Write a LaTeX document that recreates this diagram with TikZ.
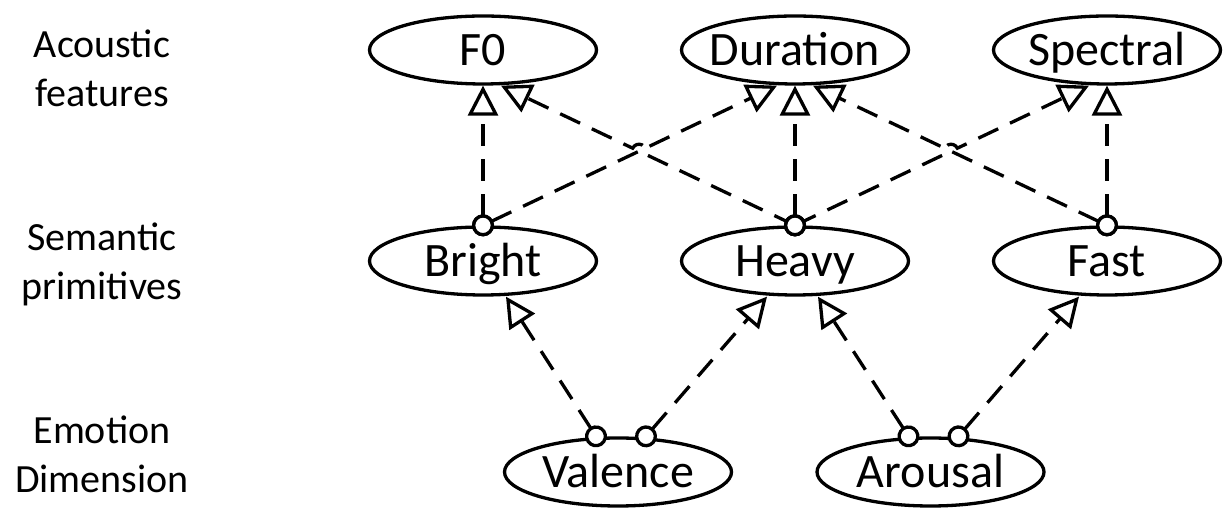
\documentclass[tikz,border=0pt]{standalone}
\usepackage{fontspec}
\setmainfont{Carlito}
\usetikzlibrary{arrows.meta,shapes.geometric,calc}
\begin{document}
\begin{tikzpicture}[x=1pt,y=1pt,
  state/.style={ellipse, draw, fill=white, line width=3.3pt,
    minimum width=227pt, minimum height=68pt, inner sep=0pt,
    font=\fontsize{48}{58}\selectfont, text height=31pt, text depth=0pt},
  layer/.style={align=center, font=\fontsize{40}{49.5}\selectfont, anchor=base},
  link/.style={line width=3.3pt, dash pattern=on 22pt off 13pt,
    shorten <=-11pt,
    {Circle[length=22pt,width=22pt,line width=3.3pt,fill=white]}-{Triangle[length=30pt,width=30pt,line width=3.3pt,fill=white]}}
]
\fill[white] (0,0) rectangle (1227,508);
\useasboundingbox (0,0) rectangle (1227,508);

% layer captions (anchored on the baseline of the second line)
\node[layer] (capA) at (102,401) {Acoustic\\features};
\node[layer] (capS) at (102,208) {Semantic\\primitives};
\node[layer] (capE) at (102,15) {Emotion\\Dimension};

% acoustic features
\node[state] (F0) at (483,458) {\makebox[0pt]{F0}};
\node[state] (Duration) at (795,458) {\makebox[0pt]{Duration}};
\node[state] (Spectral) at (1107,458) {\makebox[0pt]{Spectral}};
% semantic primitives
\node[state] (Bright) at (483,247) {\makebox[0pt]{Bright}};
\node[state] (Heavy) at (795,247) {\makebox[0pt]{Heavy}};
\node[state] (Fast) at (1107,247) {\makebox[0pt]{Fast}};
% emotion dimensions
\node[state] (Valence) at (618,36) {\makebox[0pt]{Valence}};
\node[state] (Arousal) at (930.5,36) {\makebox[0pt]{Arousal}};

% end points beside the centre of the lower border
\coordinate (f0R) at ([xshift=18pt]F0.south);
\coordinate (durL) at ([xshift=-18pt]Duration.south);
\coordinate (durR) at ([xshift=18pt]Duration.south);
\coordinate (spcL) at ([xshift=-18pt]Spectral.south);
\coordinate (briR) at ([xshift=23pt]Bright.south);
\coordinate (hvyL) at ([xshift=-28pt]Heavy.south);
\coordinate (hvyR) at ([xshift=23pt]Heavy.south);
\coordinate (fstL) at ([xshift=-28pt]Fast.south);
\coordinate (valL) at ([xshift=-22pt]Valence.north);
\coordinate (valR) at ([xshift=28pt]Valence.north);
\coordinate (arsL) at ([xshift=-22pt]Arousal.north);
\coordinate (arsR) at ([xshift=28pt]Arousal.north);

% semantic primitives -> acoustic features
\draw[link] (Bright.north) -- (durL);
\draw[link] (Fast.north) -- (durR);
% the two links from Heavy hop over the lines they cross
\draw[link, dash phase=8.5pt] let \p1=(Heavy.north), \p2=(f0R),
    \p3=(intersection of Heavy.north--f0R and Bright.north--durL),
    \n1={atan2(\y2-\y1,\x2-\x1)} in
  (\p1) -- ($(\p3)+(\n1+180:7pt)$)
  arc[start angle=\n1+180, delta angle=180, radius=7pt] -- (\p2);
\draw[link, dash phase=8.5pt] let \p1=(Heavy.north), \p2=(spcL),
    \p3=(intersection of Heavy.north--spcL and Fast.north--durR),
    \n1={atan2(\y2-\y1,\x2-\x1)} in
  (\p1) -- ($(\p3)+(\n1+180:7pt)$)
  arc[start angle=\n1+180, delta angle=-180, radius=7pt] -- (\p2);
\draw[link] (Bright.north) -- (F0.south);
\draw[link] (Heavy.north) -- (Duration.south);
\draw[link] (Fast.north) -- (Spectral.south);

% emotion dimensions -> semantic primitives
\draw[link] (valL) -- (briR);
\draw[link] (valR) -- (hvyL);
\draw[link] (arsL) -- (hvyR);
\draw[link] (arsR) -- (fstL);
\end{tikzpicture}
\end{document}
